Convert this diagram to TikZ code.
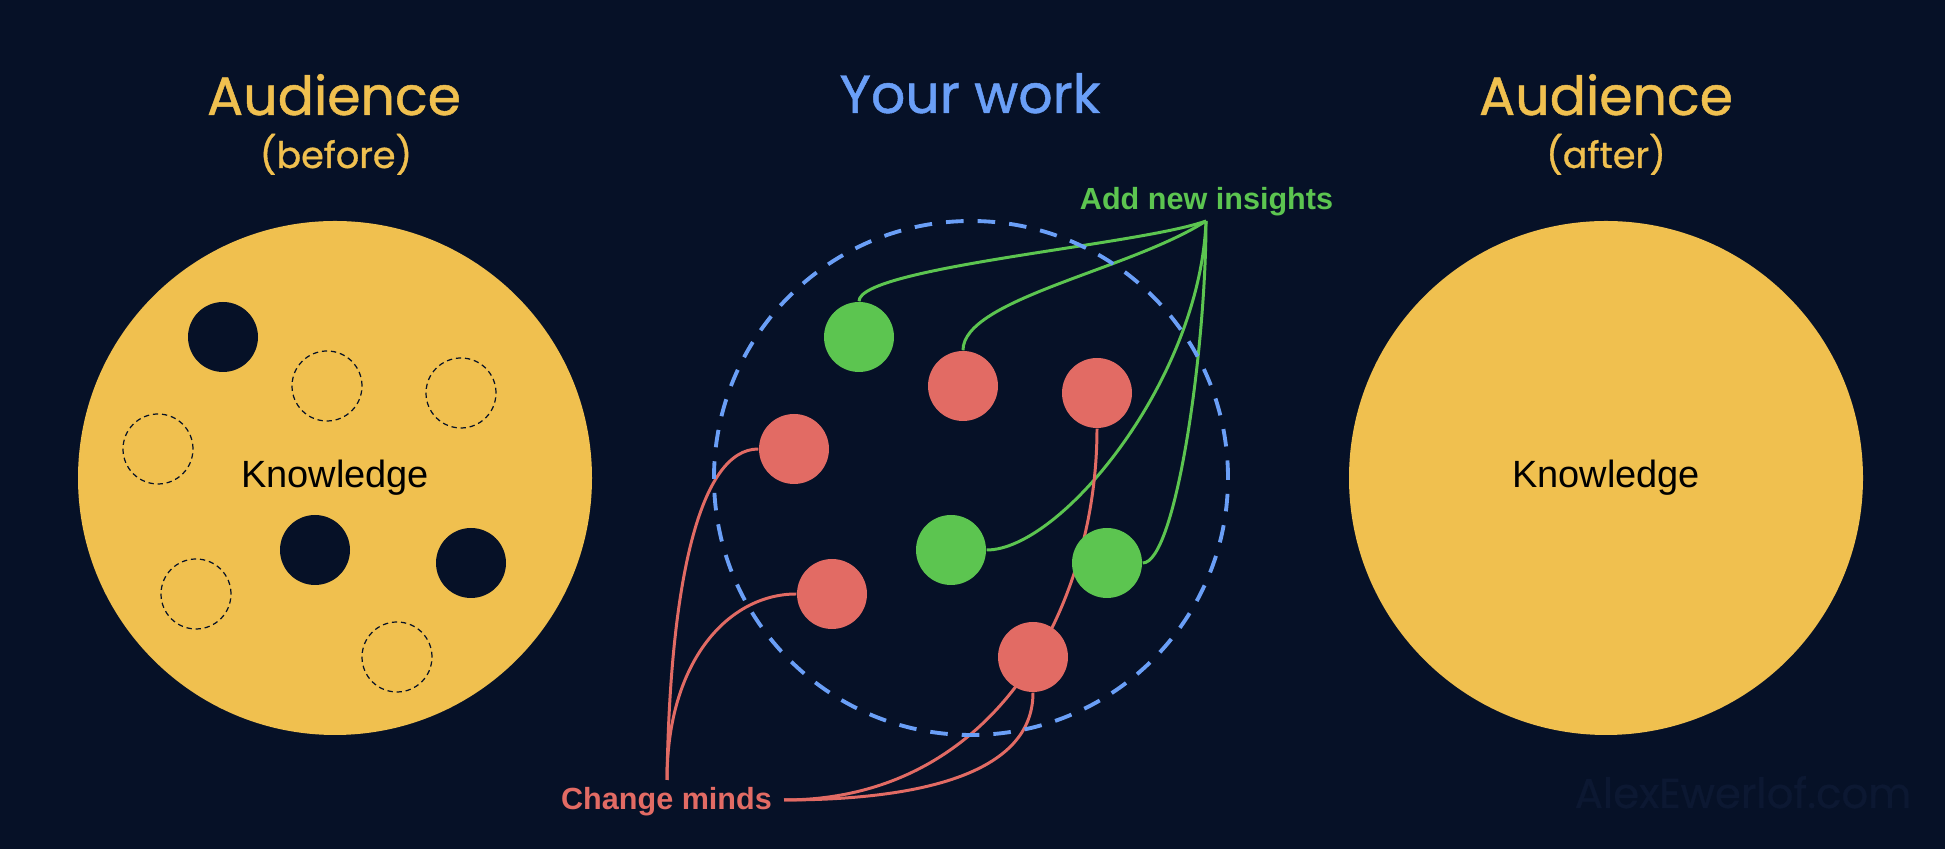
\documentclass[tikz,border=0pt]{standalone}
\usepackage{fontspec}
\setmainfont{Liberation Sans}
\newfontfamily\titlefont{Poppins}[FakeBold=0.9]

\definecolor{bg}{HTML}{061127}
\definecolor{sun}{HTML}{F0C04F}
\definecolor{sky}{HTML}{6A9FF7}
\definecolor{leaf}{HTML}{5CC550}
\definecolor{coral}{HTML}{E26B64}
\definecolor{wmark}{HTML}{0C1832}

\pgfdeclarelayer{back}
\pgfdeclarelayer{links}
\pgfsetlayers{back,links,main}

\begin{document}
\begin{tikzpicture}[
	audience/.style={circle, fill=sun, minimum size=5.14cm, inner sep=0pt, font=\fontsize{10.8}{13}\selectfont},
	dot/.style={circle, minimum size=0.70cm, inner sep=0pt},
	hole/.style={dot, fill=bg},
	missing/.style={dot, draw=bg, line width=0.35pt, dash pattern=on 1.5pt off 1.1pt},
	insight/.style={dot, fill=leaf},
	mind/.style={dot, fill=coral},
	heading/.style={font=\titlefont\fontsize{15.3}{18}\selectfont, anchor=base},
	subhead/.style={font=\titlefont\fontsize{10.4}{12}\selectfont, anchor=base},
	note/.style={font=\bfseries\fontsize{8.7}{10}\selectfont, anchor=base},
	link/.style={line width=0.85pt}
]
	\useasboundingbox (0,0) rectangle (19.45,8.49);
	\begin{pgfonlayer}{back}
		\fill[bg] (0,0) rectangle (19.45,8.49);
	\end{pgfonlayer}

	% titles
	\node[heading, text=sun] (audbefore) at (3.34,7.34) {Audience};
	\node[subhead, text=sun] (before) at (3.36,6.81) {(before)};
	\node[heading, text=sky] (yourwork) at (9.70,7.36) {Your work};
	\node[heading, text=sun] (audafter) at (16.06,7.34) {Audience};
	\node[subhead, text=sun] (after) at (16.06,6.81) {(after)};

	% audience before
	\node[audience] (knowbefore) at (3.35,3.71) {Knowledge};
	\node[hole] (ha) at (2.23,5.12) {};
	\node[missing] (hb) at (3.27,4.63) {};
	\node[missing] (hc) at (4.61,4.56) {};
	\node[missing] (hd) at (1.58,4.00) {};
	\node[hole] (he) at (3.15,2.99) {};
	\node[hole] (hf) at (4.71,2.86) {};
	\node[missing] (hg) at (1.96,2.55) {};
	\node[missing] (hh) at (3.97,1.92) {};

	% your work
	\node[circle, draw=sky, line width=1.1pt, dash pattern=on 5pt off 4pt, minimum size=5.14cm] (work) at (9.71,3.71) {};
	\node[insight] (g1) at (8.59,5.12) {};
	\node[mind] (r1) at (9.63,4.63) {};
	\node[mind] (r2) at (10.97,4.56) {};
	\node[mind] (r3) at (7.94,4.00) {};
	\node[insight] (g2) at (9.51,2.99) {};
	\node[insight] (g3) at (11.07,2.86) {};
	\node[mind] (r4) at (8.32,2.55) {};
	\node[mind] (r5) at (10.33,1.92) {};

	\node[note, text=leaf] (insights) at (12.065,6.39) {Add new insights};
	\node[note, text=coral] (minds) at (6.665,0.39) {Change minds};
	\coordinate (tipg) at (12.06,6.28);
	\coordinate (tipr) at (6.67,0.69);
	\coordinate (tiprr) at (7.84,0.49);

	\begin{pgfonlayer}{links}
		\draw[link, leaf] (g1.north) .. controls +(0,0.34) and (11.40,6.04) .. (tipg);
		\draw[link, leaf] (r1.north) .. controls +(0,0.51) and (11.30,5.79) .. (tipg);
		\draw[link, leaf] (g2.east) .. controls +(0.74,0) and (12.00,4.69) .. (tipg);
		\draw[link, leaf] (g3.east) .. controls +(0.33,0) and (12.06,4.99) .. (tipg);
		\draw[link, coral] (r3.west) .. controls +(-0.58,0) and (6.70,2.69) .. (tipr);
		\draw[link, coral] (r4.west) .. controls +(-0.67,0) and (6.67,1.89) .. (tipr);
		\draw[link, coral] (r2.south) .. controls +(0,-1.72) and (10.00,0.49) .. (tiprr);
		\draw[link, coral] (r5.south) .. controls +(0,-0.88) and (9.00,0.49) .. (tiprr);
	\end{pgfonlayer}

	% audience after
	\node[audience] (knowafter) at (16.06,3.71) {Knowledge};

	\node[font=\titlefont\fontsize{11.9}{14}\selectfont, text=wmark, anchor=base] (site) at (17.43,0.41) {AlexEwerlof.com};
\end{tikzpicture}
\end{document}
